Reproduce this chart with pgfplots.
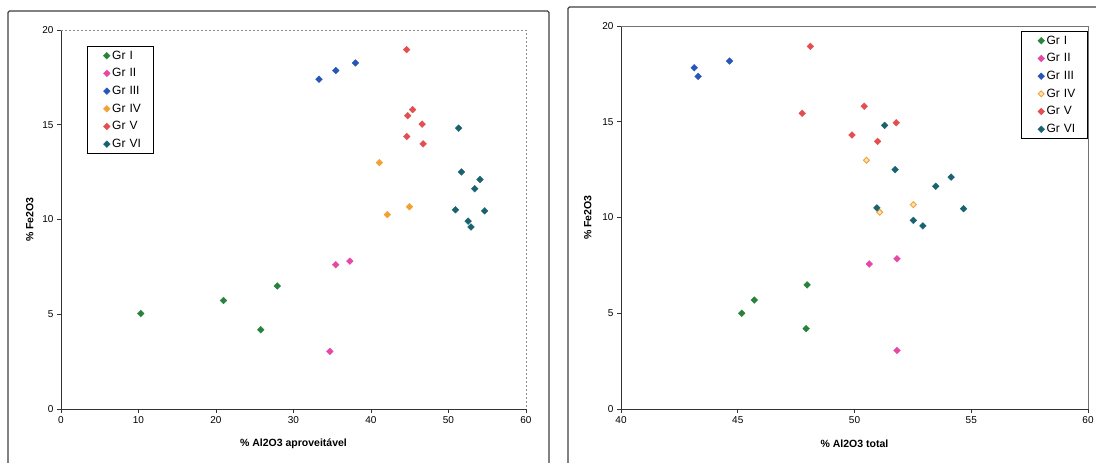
\documentclass[border=0pt]{standalone}
\usepackage{pgfplots}
\pgfplotsset{compat=1.18}
\usepackage{fontspec}
\setmainfont{Liberation Sans}
\definecolor{cI}{RGB}{40,130,60}
\definecolor{cII}{RGB}{232,72,165}
\definecolor{cIII}{RGB}{40,85,185}
\definecolor{cIV}{RGB}{242,162,52}
\definecolor{cV}{RGB}{228,78,80}
\definecolor{cVI}{RGB}{25,98,112}
\pgfplotsset{
  mystyle/.style={
    scale only axis,
    axis x line*=bottom, axis y line*=left,
    axis line style={-, black!80, line width=0.9pt},
    tick align=outside, tick pos=left,
    major tick length=4pt,
    tick style={black!80, line width=0.8pt},
    ymin=0, ymax=20, ytick={0,5,10,15,20},
    /pgf/number format/assume math mode=true,
    tick label style={font=\fontsize{10}{12}\selectfont},
    label style={font=\bfseries\fontsize{10.5}{12}\selectfont},
    legend cell align=left,
    legend style={draw=black, line width=0.8pt, font=\fontsize{12}{14}\selectfont,
      inner xsep=3pt, inner ysep=2.5pt, row sep=3.8pt, text width=36pt},
    legend image code/.code={\path (0pt,0pt); \draw[mark repeat=2,mark phase=2] plot coordinates {(10pt,0pt)(16pt,0pt)(22pt,0pt)};},
    every axis plot/.append style={only marks, mark=square*, mark size=2.4pt,
      mark options={rotate=45, line width=0.3pt}},
  }
}
\begin{document}
\begin{tikzpicture}
\useasboundingbox (0pt,0pt) rectangle (1096pt,463pt);
\fill[white] (0pt,0pt) rectangle (1096pt,463pt);
% frames
\draw[black!75, line width=1.3pt, rounded corners=1.5pt] (8pt,-5pt) -- (8pt,452pt) -- (549pt,452pt) -- (549pt,-5pt);
\draw[black!75, line width=1.3pt, rounded corners=1.5pt] (568pt,-5pt) -- (568pt,456pt) -- (1100pt,456pt);
% left axis
\begin{axis}[mystyle, at={(61pt,54pt)}, anchor=south west, width=465pt, height=379pt,
  xmin=0, xmax=60, xtick={0,10,20,30,40,50,60},
  xlabel={\% Al2O3 aproveitável}, ylabel={\% Fe2O3},
  xlabel style={at={(axis description cs:0.5,-0.092)}, anchor=center},
  ylabel style={at={(axis description cs:-0.067,0.5)}, anchor=center},
  legend style={at={(0.056,0.958)}, anchor=north west},
  after end axis/.code={\draw[black!45, dash pattern=on 2pt off 2pt, line width=0.8pt] (rel axis cs:0,1) -- (rel axis cs:1,1) -- (rel axis cs:1,0);}]
\addplot[color=cI] coordinates {(10.28,5.04)(20.97,5.73)(25.77,4.18)(27.9,6.49)};
\addlegendentry{Gr I}
\addplot[color=cII] coordinates {(35.46,7.61)(37.27,7.80)(34.69,3.04)};
\addlegendentry{Gr II}
\addplot[color=cIII] coordinates {(33.28,17.40)(35.46,17.86)(37.99,18.26)};
\addlegendentry{Gr III}
\addplot[color=cIV] coordinates {(41.07,13.0)(42.11,10.26)(44.97,10.67)};
\addlegendentry{Gr IV}
\addplot[color=cV] coordinates {(44.6,18.96)(45.37,15.80)(44.74,15.48)(46.6,15.03)(44.6,14.38)(46.73,13.99)};
\addlegendentry{Gr V}
\addplot[color=cVI] coordinates {(51.31,14.82)(51.67,12.51)(54.07,12.11)(53.39,11.62)(50.9,10.51)(54.66,10.46)(52.53,9.91)(52.9,9.60)};
\addlegendentry{Gr VI}
\end{axis}
% right axis
\begin{axis}[mystyle, at={(621pt,54pt)}, anchor=south west, width=467pt, height=383pt,
  xmin=40, xmax=60, xtick={40,45,50,55,60},
  xlabel={\% Al2O3 total}, ylabel={\% Fe2O3},
  xlabel style={at={(axis description cs:0.5,-0.091)}, anchor=center},
  ylabel style={at={(axis description cs:-0.071,0.5)}, anchor=center},
  legend style={at={(1.0,0.987)}, anchor=north east},
  after end axis/.code={\draw[black!55, line width=0.8pt] (rel axis cs:0,1) -- (rel axis cs:1,1) -- (rel axis cs:1,0);}]
\addplot[color=cI] coordinates {(45.17,5.0)(45.71,5.69)(47.97,6.48)(47.93,4.20)};
\addlegendentry{Gr I}
\addplot[color=cII] coordinates {(50.63,7.57)(51.82,7.85)(51.82,3.05)};
\addlegendentry{Gr II}
\addplot[color=cIII] coordinates {(43.14,17.82)(43.30,17.37)(44.65,18.17)};
\addlegendentry{Gr III}
\addplot[color=cIV, mark size=2.1pt, mark options={rotate=45, fill=cIV!30!white, line width=0.9pt}] coordinates {(50.51,12.99)(51.08,10.27)(52.52,10.67)};
\addlegendentry{Gr IV}
\addplot[color=cV] coordinates {(48.11,18.94)(47.76,15.44)(50.42,15.81)(51.79,14.95)(49.89,14.31)(50.99,13.98)};
\addlegendentry{Gr V}
\addplot[color=cVI] coordinates {(51.29,14.81)(51.74,12.50)(54.14,12.11)(53.48,11.63)(50.96,10.50)(54.67,10.46)(52.52,9.85)(52.93,9.56)};
\addlegendentry{Gr VI}
\end{axis}
\end{tikzpicture}
\end{document}
